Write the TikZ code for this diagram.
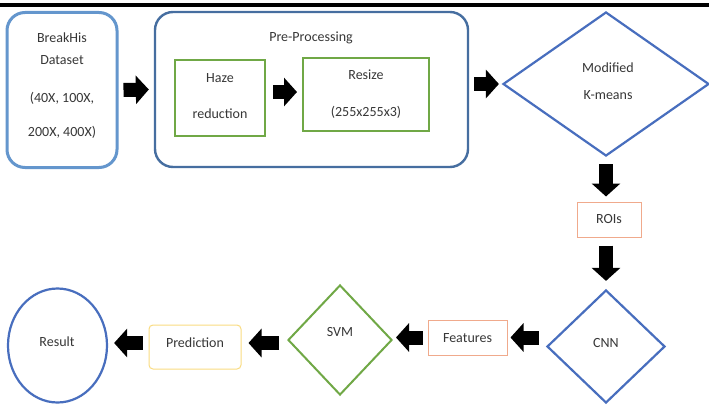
\documentclass[tikz,border=0pt]{standalone}
\usepackage{fontspec}
\setmainfont{Carlito}
\usetikzlibrary{shapes.geometric,arrows.meta,calc}
\definecolor{txt}{RGB}{55,55,55}
\definecolor{lblue}{RGB}{100,150,205}
\definecolor{dblue}{RGB}{70,110,160}
\definecolor{kblue}{RGB}{72,110,190}
\definecolor{mgreen}{RGB}{112,168,70}
\definecolor{lorange}{RGB}{240,170,140}
\definecolor{lyellow}{RGB}{250,220,130}
\tikzset{
  lab/.style={text=txt,font=\fontsize{14}{16}\selectfont,inner sep=0pt},
  bigbox/.style={draw,rounded corners=18pt,inner sep=0pt},
  greenbox/.style={draw=mgreen,line width=2pt,inner sep=0pt},
  smallbox/.style={draw=lorange,line width=1pt,inner sep=0pt},
  dia/.style={shape=diamond,draw,line width=2.2pt,inner sep=0pt},
  barrow/.style={draw=black,line width=14pt,-{Triangle[length=13pt 0,width=28pt 0]}},
}
\begin{document}
\begin{tikzpicture}[x=1pt,y=-1pt]
\useasboundingbox (0,0) rectangle (709,404);
\fill[white] (0,0) rectangle (709,404);
\fill[black] (0,3.5) rectangle (709,7.5);
% nodes
\node[bigbox,draw=lblue,line width=3pt,minimum width=110pt,minimum height=155pt] (bh) at (62,90) {};
\node[bigbox,draw=dblue,line width=2.4pt,minimum width=313pt,minimum height=155pt] (pp) at (311.5,89.5) {};
\node[greenbox,minimum width=90pt,minimum height=76pt] (haze) at (220,98) {};
\node[greenbox,minimum width=126pt,minimum height=73pt] (resize) at (366,94.5) {};
\node[dia,draw=kblue,minimum width=206pt,minimum height=144pt] (km) at (606,84) {};
\node[smallbox,minimum width=64pt,minimum height=35pt] (roi) at (609,219.5) {};
\node[dia,draw=kblue,minimum width=118pt,minimum height=113pt] (cnn) at (606,346.5) {};
\node[smallbox,minimum width=79pt,minimum height=35pt] (feat) at (467.5,337.5) {};
\node[dia,draw=mgreen,line width=2pt,minimum width=104pt,minimum height=110pt] (svm) at (340,340) {};
\node[draw=lyellow,line width=1pt,rounded corners=4pt,inner sep=0pt,minimum width=92pt,minimum height=44pt] (pred) at (195,347) {};
\node[shape=ellipse,draw=kblue,line width=2.2pt,inner sep=0pt,minimum width=99pt,minimum height=114pt] (res) at (57.5,345.5) {};
% labels
\node[lab] (t1) at (62,38) {BreakHis};
\node[lab] (t2) at (62,60) {Dataset};
\node[lab] (t3) at (62,98) {(40X, 100X,};
\node[lab] (t4) at (62,132) {200X, 400X)};
\node[lab] (t5) at (311,38) {Pre-Processing};
\node[lab] (t6) at (220,78) {Haze};
\node[lab] (t7) at (220,114) {reduction};
\node[lab] (t8) at (366,75) {Resize};
\node[lab] (t9) at (366,112) {(255x255x3)};
\node[lab] (t10) at (608,68) {Modified};
\node[lab] (t11) at (608,95) {K-means};
\node[lab] (t12) at (609,219) {ROIs};
\node[lab] (t13) at (606,343) {CNN};
\node[lab] (t14) at (467.5,338) {Features};
\node[lab] (t15) at (340,332) {SVM};
\node[lab] (t16) at (195,343) {Prediction};
\node[lab] (t17) at (57,342) {Result};
% arrows
\draw[barrow] ([xshift=5pt]bh.east) -- ([xshift=-5pt]pp.west);
\draw[barrow] ([xshift=7pt,yshift=6pt]haze.east) -- ([xshift=-5pt,yshift=6pt]haze.east -| resize.west);
\draw[barrow] ([xshift=5pt]pp.east |- km.west) -- ([xshift=-3pt]km.west);
\draw[barrow] ([yshift=-7pt]km.south) -- ([yshift=5pt]km.south |- roi.north);
\draw[barrow] ([yshift=-8pt]roi.south -| cnn.north) -- ([yshift=8pt]cnn.north);
\draw[barrow] ([xshift=-7pt]cnn.west |- feat.east) -- ([xshift=3pt]feat.east);
\draw[barrow] ([xshift=-5pt]feat.west) -- ([xshift=3pt]feat.west -| svm.east);
\draw[barrow] ([xshift=-8pt,yshift=-3pt]svm.west) -- ([xshift=7pt,yshift=-3pt]svm.west -| pred.east);
\draw[barrow] ([xshift=-6pt,yshift=4pt]pred.west) -- ([xshift=6pt,yshift=4pt]pred.west -| res.east);
\end{tikzpicture}
\end{document}
